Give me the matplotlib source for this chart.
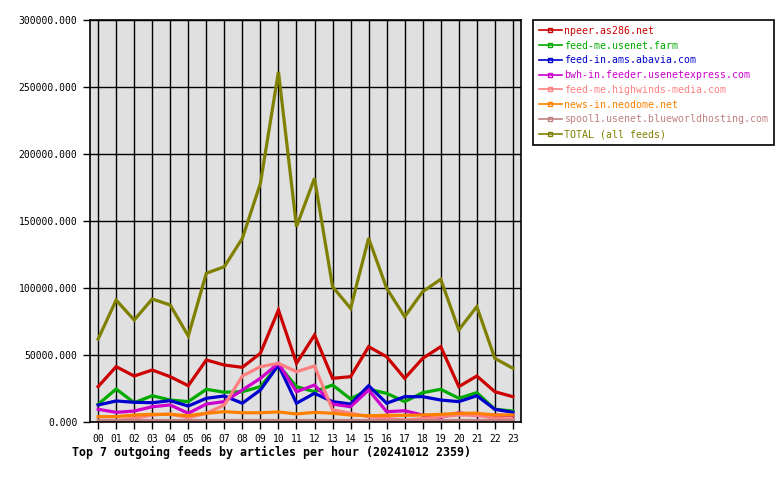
import matplotlib
matplotlib.use("Agg")
import matplotlib.pyplot as plt
from matplotlib.lines import Line2D

hours = ["%02d" % h for h in range(24)]

feeds = [
    "npeer.as286.net",
    "feed-me.usenet.farm",
    "feed-in.ams.abavia.com",
    "bwh-in.feeder.usenetexpress.com",
    "feed-me.highwinds-media.com",
    "news-in.neodome.net",
    "spool1.usenet.blueworldhosting.com",
    "TOTAL (all feeds)",
]
colors = ["#cc0000", "#00aa00", "#0000cc", "#cc00cc",
          "#ff8080", "#ff8000", "#c08080", "#808000"]

npeer = [26400, 41300, 34300, 38800, 33800, 27100, 46300, 42500, 40800, 51300,
         83600, 43800, 64900, 32600, 33800, 56200, 48700, 32600, 47500, 56200,
         26400, 34300, 22600, 18900]
usenet_farm = [13200, 24600, 14400, 19600, 16400, 15200, 24400, 22200, 22600, 26400,
               42500, 26400, 22600, 27600, 17200, 24400, 21400, 15200, 21900, 24400,
               17700, 21900, 9500, 8200]
abavia = [12700, 15700, 14700, 14400, 15900, 11900, 17700, 19400, 14000, 23900,
          42500, 14000, 21400, 15200, 13400, 27100, 14000, 18900, 18900, 16400,
          15200, 19600, 9500, 7200]
usenetexpress = [9500, 7200, 8200, 11400, 12700, 6500, 13400, 15200, 23900, 32600,
                 43800, 22600, 27600, 13400, 11400, 23900, 7700, 8400, 5200, 3500,
                 6900, 4700, 5200, 4700]
highwinds = [1000, 1000, 2800, 5200, 6000, 3200, 6500, 12700, 34300, 41300,
             43800, 37500, 41800, 9000, 6500, 4000, 2800, 1500, 2500, 4000,
             5200, 5000, 2800, 2000]
neodome = [4000, 4000, 5200, 5700, 5700, 4700, 6500, 7700, 6900, 6900,
           7500, 6000, 7200, 6500, 5200, 4700, 5000, 5000, 5200, 5700,
           6500, 6500, 5200, 5200]
blueworld = [1200, 1200, 1200, 1200, 1200, 1200, 1200, 1200, 1200, 1200,
             1200, 1200, 1200, 1200, 1200, 1200, 1200, 1200, 1200, 1200,
             1200, 1200, 1200, 1200]
total = [61900, 91000, 76100, 91800, 87300, 64200, 111000, 115900, 137100, 178100,
         261400, 145800, 181900, 101000, 84800, 137100, 99800, 78600, 97300, 106500,
         68700, 86100, 47500, 40100]

series = [npeer, usenet_farm, abavia, usenetexpress, highwinds, neodome, blueworld, total]
yticks = [0, 50000, 100000, 150000, 200000, 250000, 300000]

plt.rcParams["font.family"] = "DejaVu Sans Mono"

fig = plt.figure(figsize=(7.8, 4.8), dpi=100)
ax = fig.add_axes([90 / 780, 1 - 422 / 480, 431 / 780, 402 / 480])
ax.set_facecolor("#e0e0e0")

x = list(range(len(hours)))
for vals, col in zip(series, colors):
    ax.plot(x, vals, color=col, linewidth=2.3, solid_joinstyle="miter")

ax.set_xlim(-0.45, 23.45)
ax.set_ylim(0, 300000)
ax.set_xticks(x)
ax.set_xticklabels(hours, fontsize=7)
ax.set_yticks(yticks)
ax.set_yticklabels(["%.3f" % v for v in yticks], fontsize=7)
ax.grid(True, color="black", linewidth=1)
ax.set_axisbelow(True)
ax.tick_params(direction="out", length=5, width=1, color="black", pad=4)
for s in ax.spines.values():
    s.set_linewidth(1.2)

fig.text(72 / 780, 1 - 452 / 480, "Top 7 outgoing feeds by articles per hour (20241012 2359)",
         fontsize=8.35, fontweight="bold", va="center")

handles = [Line2D([0], [0], color=c, linewidth=1.2, marker="s", markersize=3,
                  markerfacecolor="none", markeredgewidth=1) for c in colors]
leg = fig.legend(handles, feeds, loc="upper left",
                 bbox_to_anchor=(533 / 780, 1 - 20 / 480), fontsize=7.1,
                 frameon=True, fancybox=False, edgecolor="black", framealpha=1,
                 handlelength=2.3, handletextpad=0.25, labelspacing=0.48,
                 borderpad=0.6, borderaxespad=0)
leg.get_frame().set_linewidth(1.2)
for t, c in zip(leg.get_texts(), colors):
    t.set_color(c)

fig.savefig("out.png", dpi=100)
